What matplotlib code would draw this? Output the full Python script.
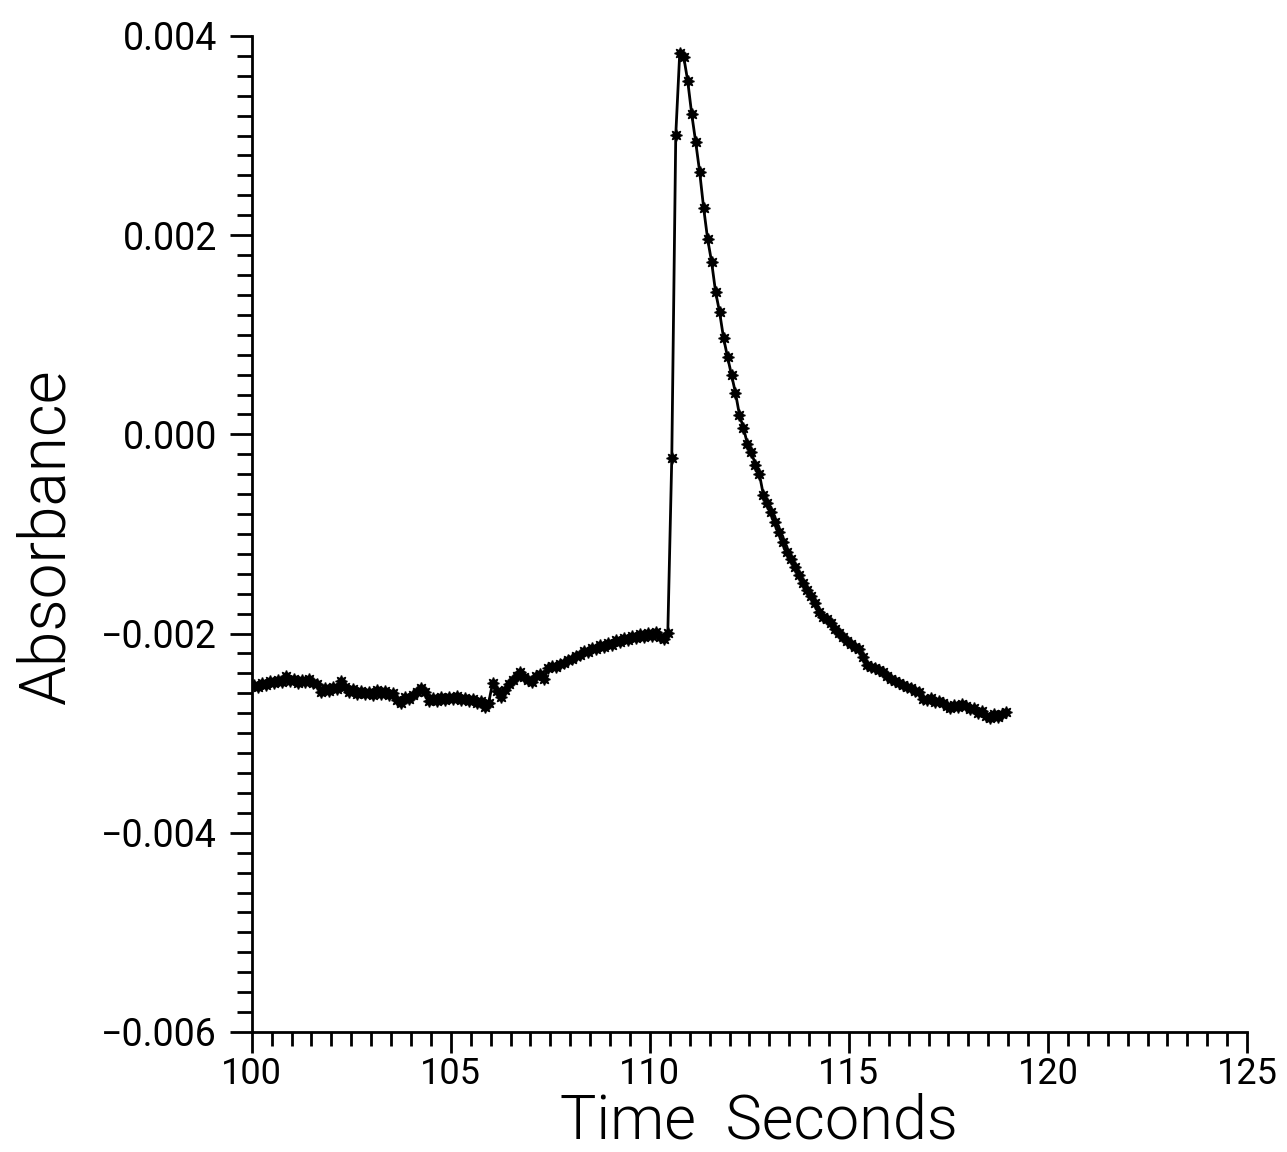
import matplotlib
matplotlib.use("Agg")
import matplotlib.pyplot as plt
from matplotlib.ticker import MultipleLocator, FuncFormatter
import numpy as np

# sampling of the trace (seconds)
T_START = 100.05
T_STEP = 0.1

absorbance = [
    -0.002516, -0.002536, -0.002496, -0.002516, -0.002476, -0.002496, -0.002466, -0.002486, -0.002426, -0.002476,
    -0.002456, -0.002496, -0.002466, -0.002486, -0.002456, -0.002496, -0.002506, -0.002586, -0.002546, -0.002576,
    -0.002536, -0.002556, -0.002476, -0.002536, -0.002586, -0.002556, -0.002606, -0.002576, -0.002606, -0.002586,
    -0.002616, -0.002566, -0.002606, -0.002576, -0.002616, -0.002596, -0.002666, -0.002696, -0.002636, -0.002656,
    -0.002616, -0.002586, -0.002546, -0.002586, -0.002677, -0.002646, -0.002677, -0.002636, -0.002667, -0.002636,
    -0.002656, -0.002626, -0.002667, -0.002646, -0.002677, -0.002656, -0.002696, -0.002677, -0.002737, -0.002696,
    -0.002496, -0.002576, -0.002636, -0.002566, -0.002506, -0.002466, -0.002426, -0.002386, -0.002436, -0.002466,
    -0.002486, -0.002426, -0.002406, -0.002456, -0.002345, -0.002325, -0.002335, -0.002305, -0.002295, -0.002265,
    -0.002255, -0.002225, -0.002215, -0.002175, -0.002185, -0.002145, -0.002155, -0.002115, -0.002135, -0.002094,
    -0.002115, -0.002065, -0.002084, -0.002044, -0.002065, -0.002024, -0.002044, -0.002004, -0.002034, -0.001994,
    -0.002024, -0.001984, -0.002034, -0.002054, -0.001994, -0.000237, 0.003006, 0.003829, 0.003789, 0.003548,
    0.003217, 0.002936, 0.002635, 0.002273, 0.001962, 0.001731, 0.001430, 0.001229, 0.000968, 0.000777,
    0.000596, 0.000416, 0.000195, 0.000064, -0.000096, -0.000177, -0.000307, -0.000398, -0.000608, -0.000689,
    -0.000779, -0.000880, -0.000980, -0.001080, -0.001181, -0.001251, -0.001331, -0.001412, -0.001492, -0.001562,
    -0.001622, -0.001693, -0.001783, -0.001833, -0.001853, -0.001894, -0.001954, -0.001994, -0.002034, -0.002074,
    -0.002104, -0.002135, -0.002155, -0.002235, -0.002315, -0.002335, -0.002345, -0.002366, -0.002386, -0.002426,
    -0.002456, -0.002476, -0.002496, -0.002516, -0.002536, -0.002546, -0.002576, -0.002586, -0.002656, -0.002667,
    -0.002646, -0.002687, -0.002677, -0.002696, -0.002727, -0.002747, -0.002717, -0.002737, -0.002707, -0.002727,
    -0.002757, -0.002747, -0.002797, -0.002777, -0.002827, -0.002847, -0.002807, -0.002837, -0.002807, -0.002787,
]

time_s = T_START + T_STEP * np.arange(len(absorbance))

x_ticks = [100, 105, 110, 115, 120, 125]
y_ticks = [-0.006, -0.004, -0.002, 0.000, 0.002, 0.004]

fig = plt.figure(figsize=(12.87, 11.52), dpi=100)
ax = fig.add_axes([0.1956, 0.1042, 0.7734, 0.8646])

ax.plot(time_s, absorbance, color="black", linewidth=2.0,
        marker=(8, 1, 0), markersize=8.5, markeredgewidth=1.0)

ax.set_xlim(100, 125)
ax.set_ylim(-0.006, 0.004)

ax.spines["top"].set_visible(False)
ax.spines["right"].set_visible(False)
for s in ("left", "bottom"):
    ax.spines[s].set_linewidth(2.0)

ax.set_xticks(x_ticks)
ax.set_yticks(y_ticks)
ax.xaxis.set_minor_locator(MultipleLocator(0.5))
ax.yaxis.set_minor_locator(MultipleLocator(0.0002))
ax.yaxis.set_major_formatter(FuncFormatter(lambda v, p: f"{v:.3f}".replace("-", "\u2212") if abs(v) > 1e-9 else "0.000"))

ax.tick_params(axis="both", which="both", direction="out", width=2.0, color="black")
ax.tick_params(axis="y", which="major", length=16, pad=9, labelsize=27)
ax.tick_params(axis="y", which="minor", length=11)
ax.tick_params(axis="x", which="major", length=15, pad=2, labelsize=26)
ax.tick_params(axis="x", which="minor", length=10)
for lbl in ax.get_xticklabels() + ax.get_yticklabels():
    lbl.set_family("Roboto")

fig.text(47 / 1287, 1 - 537 / 1152, "Absorbance", rotation=90, ha="center", va="center",
         fontsize=46, family="Roboto", fontweight=300)
fig.text(759 / 1287, 1 - 1138.5 / 1152, "Time  Seconds", ha="center", va="baseline",
         fontsize=44, family="Roboto", fontweight=300)

fig.savefig("out.png", dpi=100)
